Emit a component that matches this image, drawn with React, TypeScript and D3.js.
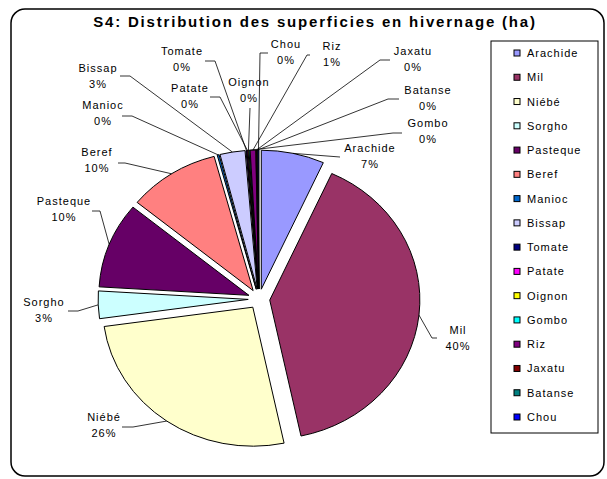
import React from "react";
import * as d3 from "d3";

const categories = ["Arachide", "Mil", "Niébé", "Sorgho", "Pasteque", "Beref", "Manioc", "Bissap", "Tomate", "Patate", "Oignon", "Gombo", "Riz", "Jaxatu", "Batanse", "Chou"];
const values = [6.8, 40.0, 26.2, 3.2, 10.0, 9.9, 0.2, 2.7, 0.1, 0.1, 0.1, 0.1, 0.6, 0.1, 0.1, 0.1];
const colors = ["#9999FF", "#993366", "#FFFFCC", "#CCFFFF", "#660066", "#FF8080", "#0066CC", "#CCCCFF", "#000080", "#FF00FF", "#FFFF00", "#00FFFF", "#800080", "#800000", "#008080", "#0000FF"];
const title = "S4: Distribution des superficies en hivernage (ha)";

// label layout (text centre, leader start, optional elbow)
const labelX = [370, 458, 104, 44, 64, 97, 103, 98, 182, 190, 249, 428, 332, 413, 428, 286];
const labelY = [148, 330, 417, 302, 201, 152, 105, 68, 51, 88, 82, 123, 46, 51, 90, 44];
const leadStart: [number, number][] = [[340, 157], [437, 338], [122, 427], [68, 311], [92, 211], [118, 163], [122, 116], [120, 76], [205, 61], [210, 97], [250, 108], [402, 133], [310, 55], [390, 60], [399, 99], [268, 53]];
const leadElbow: ([number, number] | null)[] = [null, [432, 338], [133, 427], [78, 311], [100, 211], [125, 163], [132, 116], [130, 76], [215, 61], [220, 97], null, [393, 133], [307, 55], [380, 60], [388, 99], [260, 53]];

const W = 607, H = 479;
const cx = 259, cy = 299, R = 139, kx = 1.08, explode = 10;
const font = "Arial, 'Liberation Sans', sans-serif";

export default function App() {
  const total = d3.sum(values);
  const pie = d3.pie<number>().sort(null).value((d) => d).startAngle(0).endAngle(2 * Math.PI);
  const arcs = pie(values);
  const arc = d3.arc<d3.PieArcDatum<number>>().innerRadius(0).outerRadius(R);
  const legendY = d3.scalePoint<string>().domain(categories).range([53, 417]);

  return (
    <svg width={W} height={H} style={{ position: "absolute", left: 0, top: 0 }} fontFamily={font}>
      <rect x={0} y={0} width={W} height={H} fill="#fff" />
      <rect x={11} y={9} width={593} height={467} rx={14} ry={14} fill="#fff" stroke="#000" strokeWidth={1.5} />
      <text x={315} y={27} textAnchor="middle" fontWeight="bold" fontSize={15} letterSpacing={1.8}>{title}</text>

      <g transform={`translate(${cx},${cy}) scale(${kx},1)`}>
        {arcs.map((a, i) => {
          const mid = (a.startAngle + a.endAngle) / 2;
          const ox = Math.sin(mid) * explode;
          const oy = -Math.cos(mid) * explode;
          return (
            <path key={i} d={arc(a) || ""} transform={`translate(${ox},${oy})`} fill={colors[i]} stroke="#000" strokeWidth={1} vectorEffect="non-scaling-stroke" strokeLinejoin="miter" />
          );
        })}
      </g>

      {arcs.map((a, i) => {
        const mid = (a.startAngle + a.endAngle) / 2;
        const ex = cx + kx * Math.sin(mid) * (R + explode);
        const ey = cy - Math.cos(mid) * (R + explode);
        const pts: [number, number][] = [leadStart[i]];
        if (leadElbow[i]) pts.push(leadElbow[i] as [number, number]);
        pts.push([ex, ey]);
        const pct = Math.round((values[i] / total) * 100) + "%";
        return (
          <g key={i}>
            <path d={d3.line()(pts) || ""} fill="none" stroke="#000" strokeWidth={0.8} />
            <text x={labelX[i]} y={labelY[i] + 4} textAnchor="middle" fontSize={11} letterSpacing={1}>{categories[i]}</text>
            <text x={labelX[i]} y={labelY[i] + 20} textAnchor="middle" fontSize={11} letterSpacing={1}>{pct}</text>
          </g>
        );
      })}

      <rect x={491} y={41} width={107} height={392} fill="#fff" stroke="#000" strokeWidth={1} />
      {categories.map((c, i) => (
        <g key={c}>
          <rect x={514} y={(legendY(c) as number) - 3} width={6} height={6} fill={colors[i]} stroke="#000" strokeWidth={1} />
          <text x={527} y={(legendY(c) as number) + 4} fontSize={11} letterSpacing={1}>{c}</text>
        </g>
      ))}
    </svg>
  );
}
